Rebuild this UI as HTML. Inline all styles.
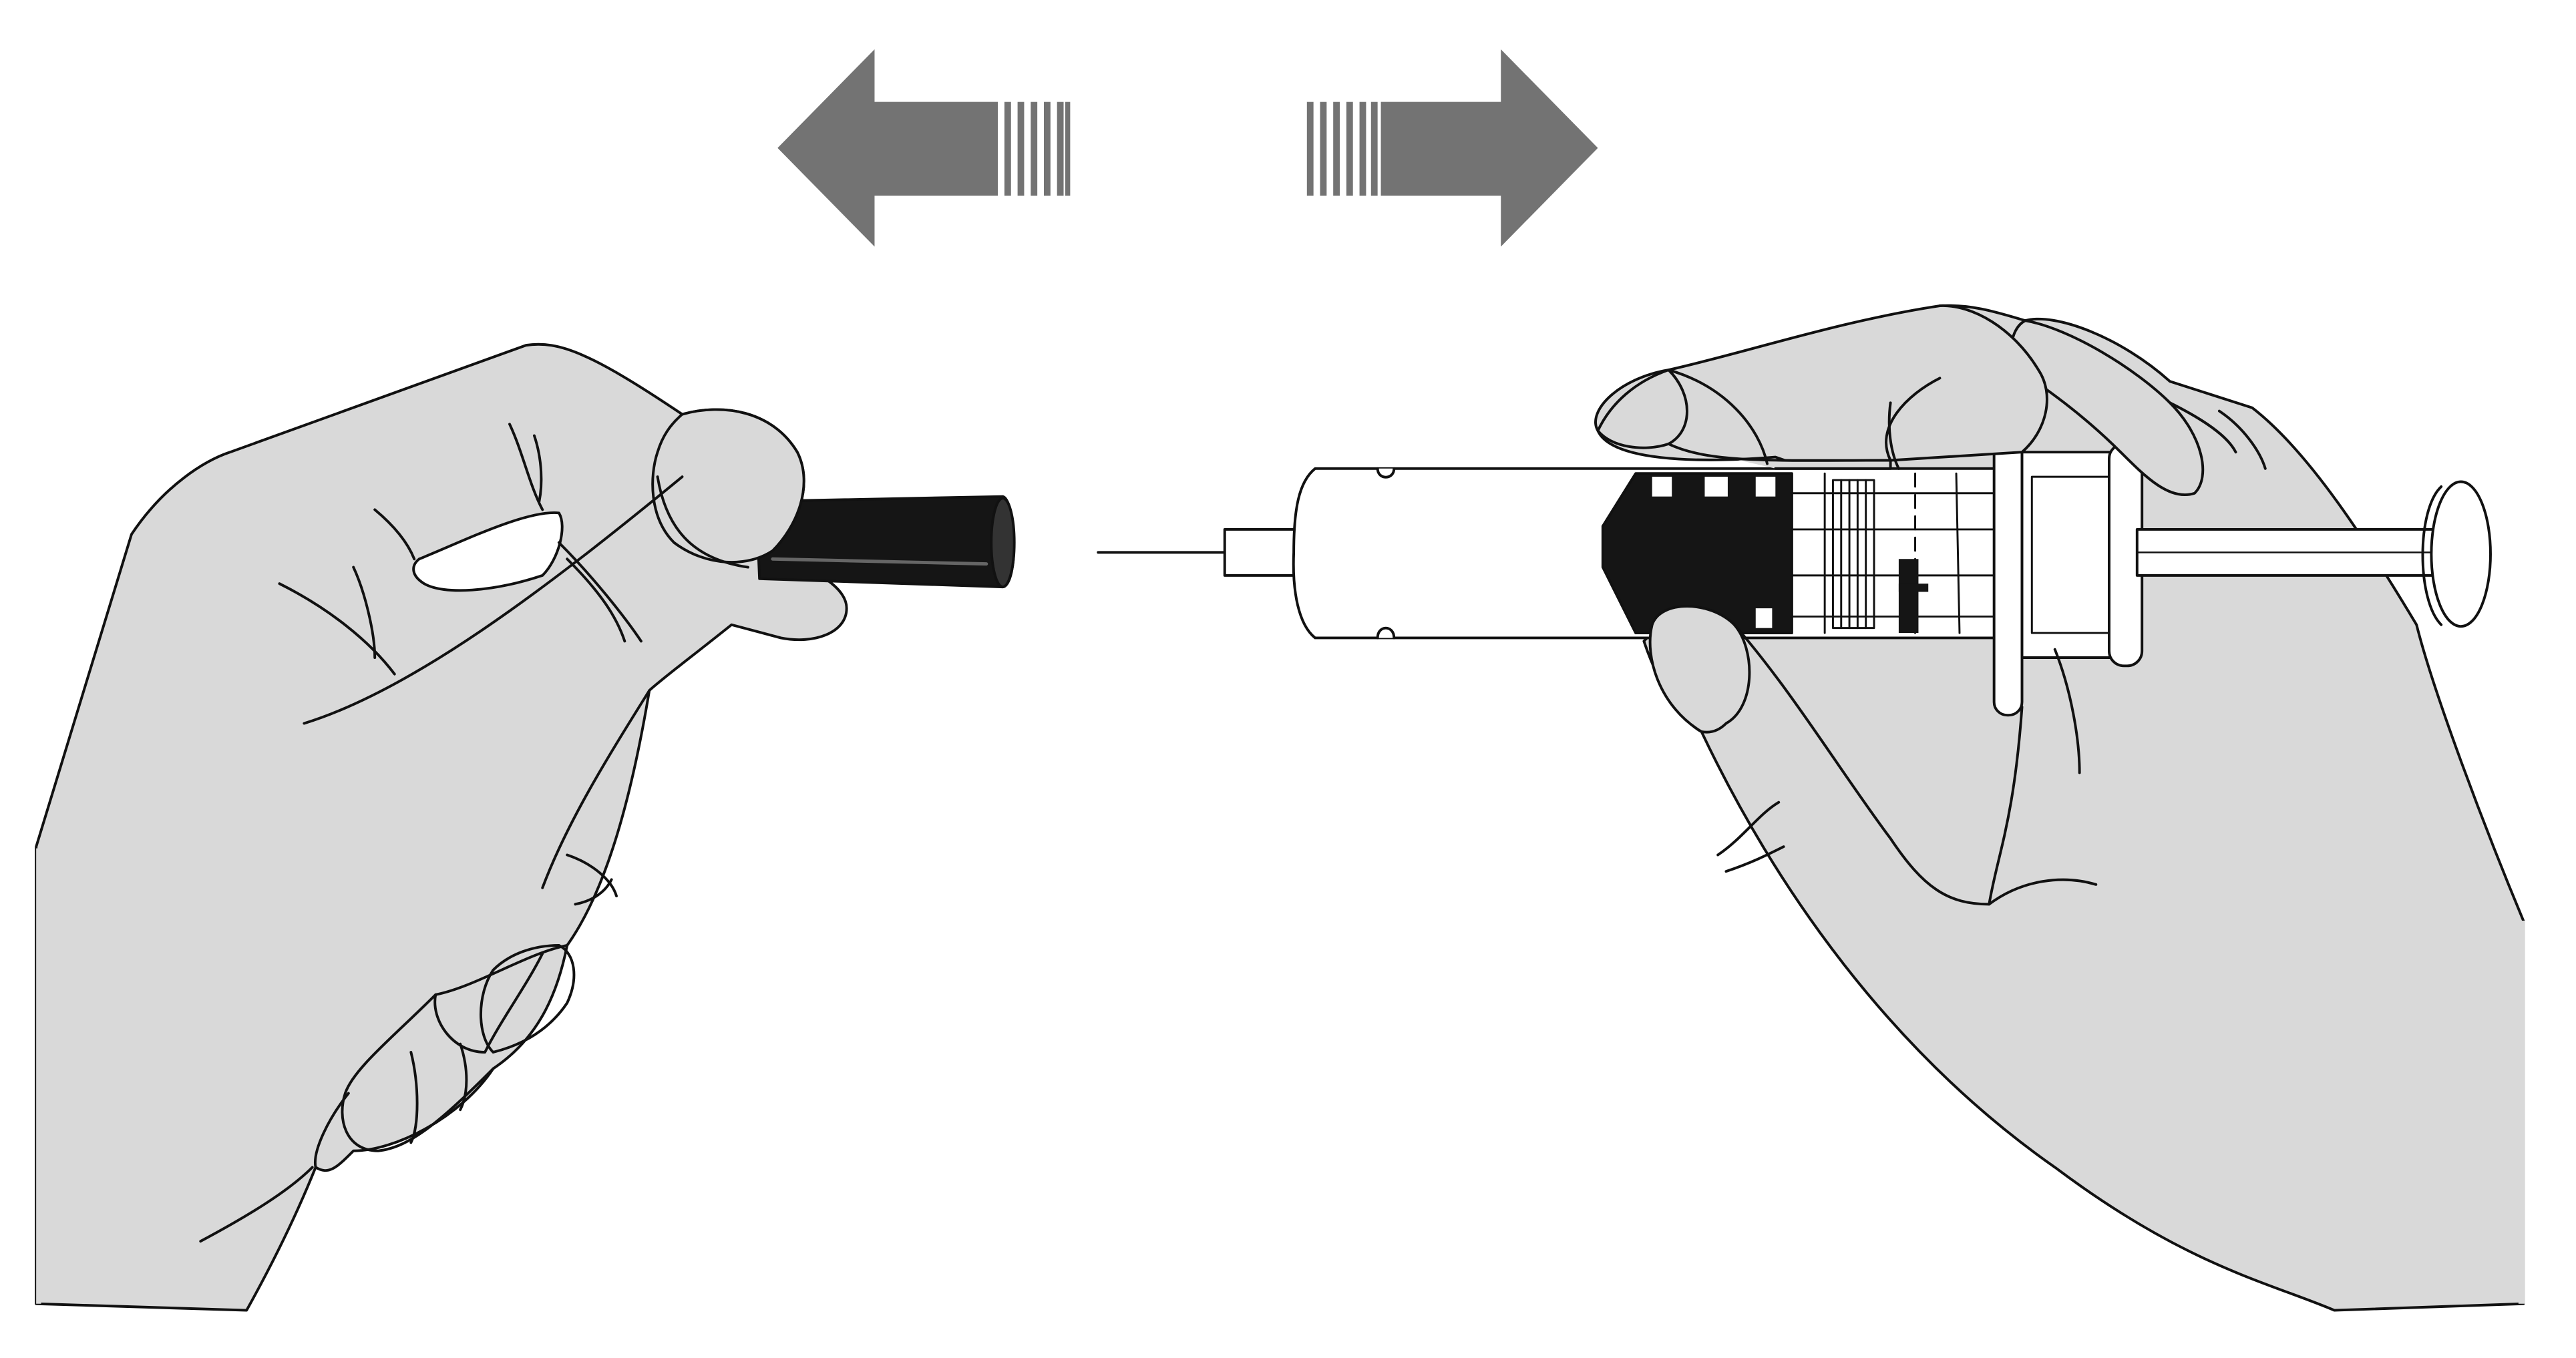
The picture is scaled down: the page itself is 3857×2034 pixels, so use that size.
<!DOCTYPE html>
<html><head><meta charset="utf-8"><style>html,body{margin:0;padding:0;background:#fff}svg{display:block}</style></head>
<body>
<svg width="3857" height="2034" viewBox="0 0 1567 826" preserveAspectRatio="none" xmlns="http://www.w3.org/2000/svg" stroke-linejoin="round" stroke-linecap="round">
<rect width="1567" height="826" fill="#fff"/>
<g fill="#737373">
<polygon points="473,90 532,30 532,62 607,62 607,119 532,119 532,150"/>
<rect x="611" y="62" width="4" height="57"/><rect x="619" y="62" width="4" height="57"/><rect x="627" y="62" width="4" height="57"/><rect x="635" y="62" width="4" height="57"/><rect x="643" y="62" width="4" height="57"/><rect x="648" y="62" width="3" height="57"/>
<polygon points="972,90 913,30 913,62 840,62 840,119 913,119 913,150"/>
<rect x="795" y="62" width="4" height="57"/><rect x="803" y="62" width="4" height="57"/><rect x="811" y="62" width="4" height="57"/><rect x="819" y="62" width="4" height="57"/><rect x="827" y="62" width="4" height="57"/><rect x="834" y="62" width="4" height="57"/>
</g>
<g stroke="#111" stroke-width="1.6">
<path d="M22,793 L22,515 L80,325 C100,295 125,280 140,275 L320,210 C340,207 360,215 415,252 C440,245 470,250 485,275 C495,295 485,320 470,335 C490,345 515,355 515,370 C515,385 495,392 475,388 L445,380 C420,400 400,415 395,420 C385,480 370,540 345,575 C340,600 330,630 300,650 C280,680 240,700 215,700 C205,710 200,715 192,710 C180,740 165,770 150,797 Z" fill="#d9d9d9"/>
<rect x="22" y="516" width="3" height="277" fill="#d9d9d9" stroke="none"/>
<path d="M460,305 L610,302 C618,304 620,355 610,357 L462,352 Z" fill="#151515"/>
<ellipse cx="610" cy="330" rx="7" ry="27" fill="#333" stroke="#111"/>
<path d="M470,340 L600,343" stroke="#666" stroke-width="2" fill="none"/>
<path d="M415,252 C440,245 470,250 485,275 C495,295 485,320 470,335 C455,345 430,345 410,330 C395,315 395,290 400,275 C403,265 408,258 415,252 Z" fill="#d9d9d9"/>
<path d="M400,290 C405,320 420,340 455,345" fill="none"/>
<path d="M255,340 C280,330 320,310 340,312 C345,320 340,340 330,350 C300,360 270,362 258,355 C250,350 250,344 255,340 Z" fill="#fff"/>
<g fill="none">
<path d="M170,355 C200,370 225,390 240,410"/>
<path d="M185,440 C250,420 330,360 415,290"/>
<path d="M310,258 C318,275 322,295 330,310"/>
<path d="M325,265 C330,280 330,295 328,305"/>
<path d="M228,310 C240,320 248,330 252,340"/>
<path d="M215,345 C222,360 228,385 228,400"/>
<path d="M340,330 C360,350 380,375 390,390"/>
<path d="M345,340 C365,360 375,375 380,390"/>
<path d="M395,420 C370,460 345,500 330,540"/>
<path d="M345,520 C360,525 372,535 375,545"/>
<path d="M350,550 C360,548 368,543 372,535"/>
<path d="M345,575 C320,580 290,600 265,605 C262,620 275,640 295,640 C305,620 320,600 330,580"/>
<path d="M300,590 C310,580 325,575 340,575 C350,580 352,595 345,610 C335,625 320,635 300,640 C290,630 290,605 300,590 Z"/>
<path d="M265,605 C240,630 215,650 210,665 C205,680 210,700 230,700 C250,698 270,680 300,650"/>
<path d="M250,640 C255,660 255,685 250,695"/>
<path d="M280,635 C285,650 285,665 280,675"/>
<path d="M212,665 C200,680 190,700 192,710"/>
<path d="M122,755 C150,740 175,725 190,710"/>
</g>
<path d="M1535,793 L1535,560 C1510,500 1480,420 1470,380 C1440,330 1405,275 1370,248 L1320,232 C1290,205 1250,190 1232,195 C1215,190 1200,185 1180,186 C1120,195 1060,215 1015,225 C985,230 965,250 972,262 C980,280 1030,282 1080,278 L1100,285 L1000,390 C1010,420 1025,440 1035,445 C1080,540 1150,640 1250,710 C1330,770 1380,780 1420,797 Z" fill="#d9d9d9"/>
<rect x="1532" y="560" width="4" height="233" fill="#d9d9d9" stroke="none"/>
<line x1="668" y1="336" x2="745" y2="336"/>
<rect x="745" y="322" width="45" height="28" fill="#fff"/>
<path d="M800,285 L1215,285 L1215,388 L800,388 C790,380 786,360 787,336 C787,310 790,293 800,285 Z" fill="#fff"/>
<path d="M838,285 C838,292 848,292 848,285 M838,388 C838,380 848,380 848,388" fill="#fff"/>
<path d="M995,288 L1090,288 L1090,385 L995,385 L975,345 L975,320 Z" fill="#151515"/>
<rect x="1005" y="290" width="12" height="12" fill="#fff" stroke="none"/>
<rect x="1037" y="290" width="14" height="12" fill="#fff" stroke="none"/>
<rect x="1068" y="290" width="12" height="12" fill="#fff" stroke="none"/>
<rect x="1068" y="370" width="10" height="12" fill="#fff" stroke="none"/>
<g fill="none" stroke-width="1.2">
<line x1="1090" y1="300" x2="1215" y2="300"/><line x1="1090" y1="375" x2="1215" y2="375"/>
<line x1="1110" y1="288" x2="1110" y2="385"/>
<rect x="1115" y="292" width="25" height="90"/>
<line x1="1120" y1="292" x2="1120" y2="382"/><line x1="1125" y1="292" x2="1125" y2="382"/><line x1="1130" y1="292" x2="1130" y2="382"/><line x1="1135" y1="292" x2="1135" y2="382"/>
<line x1="1090" y1="322" x2="1215" y2="322"/><line x1="1090" y1="350" x2="1215" y2="350"/>
<line x1="1165" y1="288" x2="1165" y2="385" stroke-dasharray="8 5"/>
<line x1="1190" y1="288" x2="1192" y2="385"/>
</g>
<rect x="1155" y="340" width="12" height="45" fill="#151515" stroke="none"/>
<rect x="1155" y="355" width="18" height="5" fill="#151515" stroke="none"/>
<rect x="1213" y="238" width="17" height="197" rx="8" fill="#fff"/>
<rect x="1230" y="275" width="55" height="125" fill="#fff"/>
<rect x="1236" y="290" width="50" height="95" fill="#fff" stroke-width="1.2"/>
<rect x="1283" y="270" width="20" height="135" rx="9" fill="#fff"/>
<rect x="1300" y="322" width="182" height="28" fill="#fff"/>
<line x1="1300" y1="336" x2="1482" y2="336" stroke-width="1"/>
<ellipse cx="1497" cy="337" rx="18" ry="44" fill="#fff"/>
<path d="M1485,296 C1470,310 1470,365 1485,380" fill="none"/>
<path d="M1232,195 C1260,200 1300,225 1320,245 C1340,265 1345,290 1335,300 C1320,305 1305,290 1290,275 C1270,255 1250,240 1232,228 C1220,220 1222,200 1232,195 Z" fill="#d9d9d9"/>
<path d="M1180,186 C1200,185 1225,200 1240,225 C1250,240 1245,262 1230,275 L1150,280 C1140,260 1160,240 1180,230" fill="#d9d9d9"/>
<path d="M972,262 C980,245 995,232 1015,225 C1030,240 1030,262 1015,270 C1000,275 980,272 972,262 Z" fill="#d9d9d9"/>
<path d="M1015,270 C1040,282 1080,280 1150,280 L1150,285 L1080,285" fill="#d9d9d9"/>
<g fill="none">
<path d="M1015,225 C1050,235 1070,260 1075,282"/>
<path d="M1150,245 C1148,260 1150,275 1155,285"/>
<path d="M1320,245 C1340,255 1355,265 1360,275"/>
<path d="M1350,250 C1365,260 1375,275 1378,285"/>
<path d="M1250,395 C1260,420 1265,450 1265,470"/>
</g>
<path d="M1035,445 C1010,430 1000,400 1005,380 C1010,365 1040,365 1055,380 C1068,395 1068,430 1050,440 C1045,445 1040,446 1035,445 Z" fill="#d9d9d9"/>
<path d="M1055,380 C1090,420 1120,470 1150,510 C1170,540 1185,550 1210,550 C1215,520 1225,500 1230,430" fill="none"/>
<path d="M1210,550 C1230,535 1255,532 1275,538" fill="none"/>
<path d="M1045,520 C1060,510 1070,495 1082,488" fill="none"/>
<path d="M1050,530 C1065,525 1075,520 1085,515" fill="none"/>
</g>
</svg>
</body></html>
